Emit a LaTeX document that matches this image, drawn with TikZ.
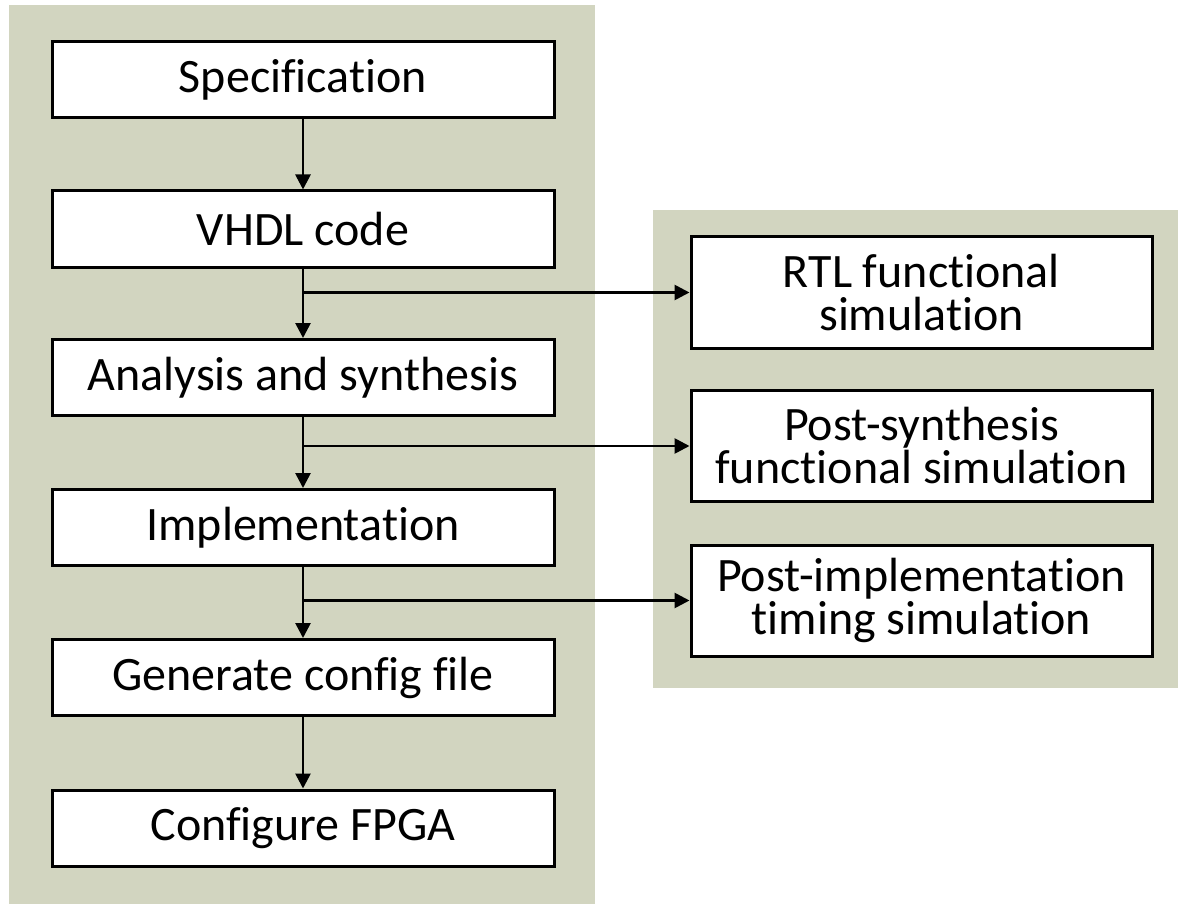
\documentclass[tikz,border=0pt]{standalone}
\usepackage{fontspec}
\setmainfont{Carlito}[Ligatures=NoCommon]
\usetikzlibrary{arrows.meta}
\definecolor{panelgreen}{RGB}{210,213,192}
\tikzset{
  panel/.style={fill=panelgreen, draw=none},
  stepbox/.style={draw=black, fill=white, line width=3pt, inner sep=0pt,
    minimum width=502pt, minimum height=76pt, align=center,
    font=\fontsize{48pt}{43pt}\selectfont},
  simbox/.style={draw=black, fill=white, line width=3pt, inner sep=0pt,
    minimum width=461pt, minimum height=111pt, align=center,
    font=\fontsize{48pt}{43pt}\selectfont},
  flow/.style={line width=2.7pt, -{Triangle[length=15pt,width=15pt]}}
}
\begin{document}
\begin{tikzpicture}[x=1pt,y=-1pt]
  \useasboundingbox (0,0) rectangle (1178,904);
  \fill[white] (0,0) rectangle (1178,904);
  % background panels
  \fill[panel] (9,5) rectangle (595,904);
  \fill[panel] (653,210) rectangle (1178,688);
  % design flow
  \node[stepbox] (spec) at (303,79.5)  {Specification};
  \node[stepbox] (vhdl) at (303,229)   {VHDL code};
  \node[stepbox] (ana)  at (303,377.5) {Analysis and synthesis};
  \node[stepbox] (impl) at (303,527.5) {Implementation};
  \node[stepbox] (gen)  at (303,677.5) {Generate config file};
  \node[stepbox] (conf) at (303,828)   {Configure FPGA};
  % simulations
  \node[simbox] (rtl)  at (921.5,292.5) {RTL functional\\simulation};
  \node[simbox] (psyn) at (921.5,446)   {Post-synthesis\\functional simulation};
  \node[simbox] (pimp) at (921.5,600.5) {Post-implementation\\timing simulation};
  % connectors
  \draw[flow] (spec) -- (vhdl);
  \draw[flow] (vhdl) -- (ana);
  \draw[flow] (ana) -- (impl);
  \draw[flow] (impl) -- (gen);
  \draw[flow] (gen) -- (conf);
  \draw[flow] (vhdl.south |- rtl.west) -- (rtl.west);
  \draw[flow] (ana.south |- psyn.west) -- (psyn.west);
  \draw[flow] (impl.south |- pimp.west) -- (pimp.west);
\end{tikzpicture}
\end{document}
